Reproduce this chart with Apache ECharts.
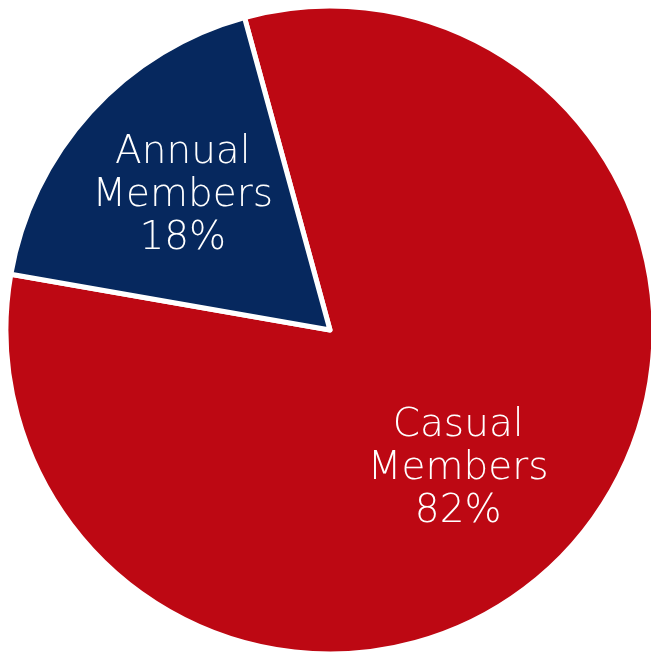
<!DOCTYPE html>
<html>
<head>
<meta charset="utf-8">
<script src="https://cdn.jsdelivr.net/npm/echarts@6/dist/echarts.min.js"></script>
<style>html,body{margin:0;padding:0;background:#fff;}#c{width:651px;height:655px;}</style>
</head>
<body>
<div id="c"></div>
<script>
const categories = ['Casual\nMembers', 'Annual\nMembers'];
const values = [82, 18];
const colors = ['#BD0813', '#06285E'];

const data = categories.map((n, i) => ({ name: n, value: values[i], itemStyle: { color: colors[i] } }));
const chart = echarts.init(document.getElementById('c'));
chart.setOption({
  animation: false,
  series: [
    {
      type: 'pie',
      center: [330, 330],
      radius: [0, 324],
      startAngle: 105.3,
      clockwise: true,
      data: data,
      itemStyle: { borderColor: '#fff', borderWidth: 5 },
      label: { show: false },
      labelLine: { show: false },
      silent: true
    },
    {
      type: 'pie',
      center: [330, 330],
      radius: [68, 324],
      startAngle: 105.3,
      clockwise: true,
      data: categories.map((n, i) => ({ name: n, value: values[i] })),
      itemStyle: { color: 'rgba(0,0,0,0)' },
      label: {
        show: true,
        position: 'inside',
        formatter: p => p.name + '\n' + p.value + '%',
        color: '#fff',
        fontFamily: 'DejaVu Sans',
        fontWeight: 200,
        fontSize: 39,
        lineHeight: 43,
        align: 'center'
      },
      labelLayout: p => (p.dataIndex === 0 ? { dx: -19, dy: 5 } : {}),
      labelLine: { show: false },
      silent: true
    }
  ]
});
</script>
</body>
</html>
